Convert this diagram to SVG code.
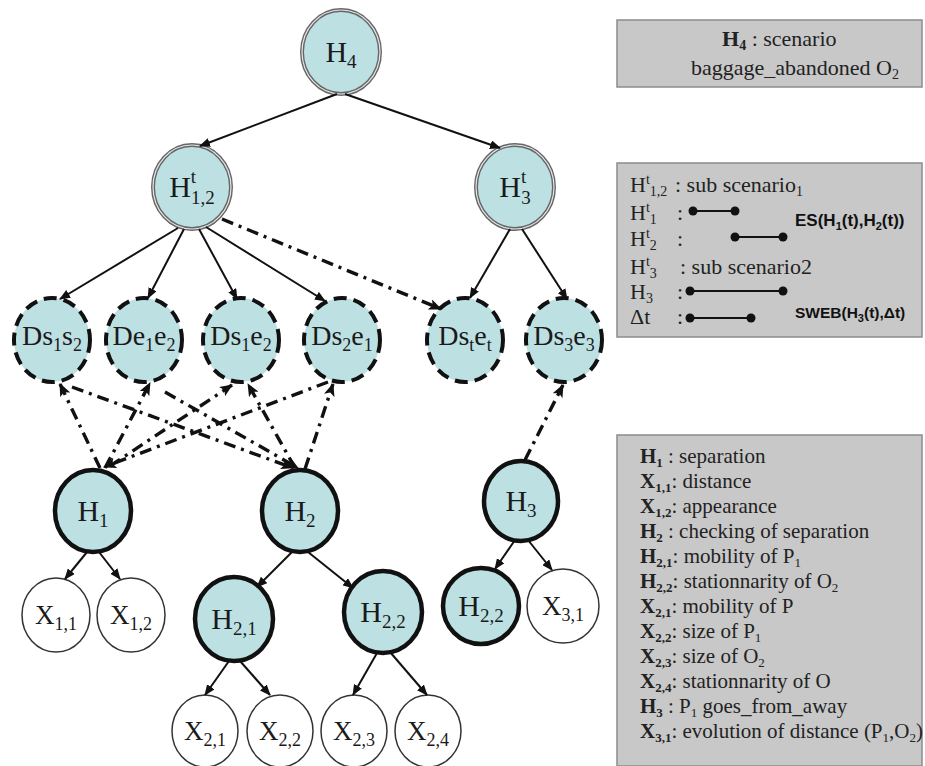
<svg xmlns="http://www.w3.org/2000/svg" width="925" height="766" viewBox="0 0 925 766">
<defs>
<marker id="ah" markerUnits="userSpaceOnUse" markerWidth="11" markerHeight="9" refX="10" refY="4.5" orient="auto"><path d="M0,0 L11,4.5 L0,9 z" fill="#111"/></marker>
<marker id="ahd" markerUnits="userSpaceOnUse" markerWidth="13" markerHeight="11" refX="12" refY="5.5" orient="auto"><path d="M0,0 L13,5.5 L0,11 L3,5.5 z" fill="#111"/></marker>
<style>
.n {fill:#bde0e3}
.dbl {stroke:#666; stroke-width:4}
.dbl2 {fill:none; stroke:#e6e6e6; stroke-width:1.2}
.dsh {stroke:#111; stroke-width:4; stroke-dasharray:13 7}
.thk {stroke:#111; stroke-width:4.5}
.x {fill:#fff; stroke:#333; stroke-width:1.5}
.lbl {font-family:"Liberation Serif", serif; font-size:30px; fill:#1a1a1a}
.lbl .s {font-size:19px}
.ds {font-family:"Liberation Serif", serif; font-size:28px; fill:#1a1a1a}
.ds .s {font-size:18px}
.xl {font-family:"Liberation Serif", serif; font-size:27px; fill:#1a1a1a}
.xl .s {font-size:18px}
.sol {stroke:#111; stroke-width:2; fill:none; marker-end:url(#ah)}
.dd {stroke:#111; stroke-width:3.4; fill:none; stroke-dasharray:12 6 3 6; marker-end:url(#ahd)}
.box {fill:#c8c8c8; stroke:#8c8c8c; stroke-width:1.5}
.bt {font-family:"Liberation Serif", serif; font-size:21px; fill:#222}
.bt .s {font-size:13px}
.bt1 {font-family:"Liberation Serif", serif; font-size:22px; fill:#222}
.bt1 .s {font-size:14px}
.b {font-weight:bold}
.bs {font-family:"Liberation Sans", Arial, sans-serif; font-weight:bold; fill:#111}
.bs .s {font-size:11px}
.dl {stroke:#111; stroke-width:2}
.dot {fill:#111}
</style>
</defs>

<g id="legend-top">
<rect class="box" x="617" y="20" width="305" height="67"/>
<text class="bt1" x="722" y="46"><tspan class="b">H</tspan><tspan class="s b" dy="4">4</tspan><tspan dy="-4"> : scenario</tspan></text>
<text class="bt1" x="691" y="75">baggage_abandoned O<tspan class="s" dy="4">2</tspan></text>
</g>

<g id="legend-mid">
<rect class="box" x="617" y="163" width="305" height="174"/>
<text class="bt1" x="630" y="192">H<tspan class="s" dy="-8">t</tspan><tspan class="s" dy="12">1,2</tspan><tspan x="675" dy="-4">: sub scenario</tspan><tspan class="s" dy="4">1</tspan></text>
<text class="bt1" x="630" y="220">H<tspan class="s" dy="-8">t</tspan><tspan class="s" dy="12">1</tspan><tspan x="677" dy="-4">:</tspan></text>
<text class="bt1" x="630" y="246">H<tspan class="s" dy="-8">t</tspan><tspan class="s" dy="12">2</tspan><tspan x="677" dy="-4">:</tspan></text>
<text class="bt1" x="630" y="274">H<tspan class="s" dy="-8">t</tspan><tspan class="s" dy="12">3</tspan><tspan x="680" dy="-4">: sub scenario2</tspan></text>
<text class="bt1" x="630" y="299">H<tspan class="s" dy="4">3</tspan><tspan x="677" dy="-4">:</tspan></text>
<text class="bt1" x="630" y="324">Δt<tspan x="677">:</tspan></text>
<line class="dl" x1="693" y1="211" x2="735" y2="211"/><circle class="dot" cx="693" cy="211" r="4.5"/><circle class="dot" cx="735" cy="211" r="4.5"/>
<line class="dl" x1="735" y1="237" x2="783" y2="237"/><circle class="dot" cx="735" cy="237" r="4.5"/><circle class="dot" cx="783" cy="237" r="4.5"/>
<line class="dl" x1="690" y1="291" x2="783" y2="291"/><circle class="dot" cx="690" cy="291" r="4.5"/><circle class="dot" cx="783" cy="291" r="4.5"/>
<line class="dl" x1="690" y1="318" x2="751" y2="318"/><circle class="dot" cx="690" cy="318" r="4.5"/><circle class="dot" cx="751" cy="318" r="4.5"/>
<text class="bs" x="795" y="226" font-size="17">ES(H<tspan class="s" dy="4">1</tspan><tspan dy="-4">(t),H</tspan><tspan class="s" dy="4">2</tspan><tspan dy="-4">(t))</tspan></text>
<text class="bs" x="795" y="318" font-size="15.5">SWEB(H<tspan class="s" dy="4">3</tspan><tspan dy="-4">(t),Δt)</tspan></text>
</g>

<g id="legend-bottom">
<rect class="box" x="617" y="435" width="305" height="331"/>
<text class="bt" x="640" y="463"><tspan class="b">H</tspan><tspan class="s b" dy="4">1</tspan><tspan x="668" dy="-4">: separation</tspan></text>
<text class="bt" x="640" y="488"><tspan class="b">X</tspan><tspan class="s b" dy="4">1,1</tspan><tspan dy="-4">: distance</tspan></text>
<text class="bt" x="640" y="513"><tspan class="b">X</tspan><tspan class="s b" dy="4">1,2</tspan><tspan dy="-4">: appearance</tspan></text>
<text class="bt" x="640" y="538"><tspan class="b">H</tspan><tspan class="s b" dy="4">2</tspan><tspan x="668" dy="-4">: checking of separation</tspan></text>
<text class="bt" x="640" y="563"><tspan class="b">H</tspan><tspan class="s b" dy="4">2,1</tspan><tspan dy="-4">: mobility of P</tspan><tspan class="s" dy="4">1</tspan></text>
<text class="bt" x="640" y="588"><tspan class="b">H</tspan><tspan class="s b" dy="4">2,2</tspan><tspan dy="-4">: stationnarity of O</tspan><tspan class="s" dy="4">2</tspan></text>
<text class="bt" x="640" y="613"><tspan class="b">X</tspan><tspan class="s b" dy="4">2,1</tspan><tspan dy="-4">: mobility of P</tspan></text>
<text class="bt" x="640" y="638"><tspan class="b">X</tspan><tspan class="s b" dy="4">2,2</tspan><tspan dy="-4">: size of P</tspan><tspan class="s" dy="4">1</tspan></text>
<text class="bt" x="640" y="663"><tspan class="b">X</tspan><tspan class="s b" dy="4">2,3</tspan><tspan dy="-4">: size of O</tspan><tspan class="s" dy="4">2</tspan></text>
<text class="bt" x="640" y="688"><tspan class="b">X</tspan><tspan class="s b" dy="4">2,4</tspan><tspan dy="-4">: stationnarity of O</tspan></text>
<text class="bt" x="640" y="713"><tspan class="b">H</tspan><tspan class="s b" dy="4">3</tspan><tspan x="668" dy="-4">: P</tspan><tspan class="s" dy="4">1</tspan><tspan dy="-4"> goes_from_away</tspan></text>
<text class="bt" x="640" y="738"><tspan class="b">X</tspan><tspan class="s b" dy="4">3,1</tspan><tspan dy="-4">: evolution of distance (P</tspan><tspan class="s" dy="4">1</tspan><tspan dy="-4">,O</tspan><tspan class="s" dy="4">2</tspan><tspan dy="-4">)</tspan></text>
</g>

<g id="H4"><ellipse class="n dbl" cx="341" cy="52" rx="39" ry="42"/><ellipse class="dbl2" cx="341" cy="52" rx="39" ry="42"/>
<text class="lbl" x="341" y="62" text-anchor="middle">H<tspan class="s" dy="6">4</tspan></text></g>
<g id="Ht12"><ellipse class="n dbl" cx="192" cy="187" rx="39" ry="42"/><ellipse class="dbl2" cx="192" cy="187" rx="39" ry="42"/>
<text class="lbl" x="192" y="197" text-anchor="middle">H<tspan class="s" dy="-14">t</tspan><tspan class="s" dx="-5" dy="21">1,2</tspan></text></g>
<g id="Ht3"><ellipse class="n dbl" cx="515" cy="187" rx="39" ry="42"/><ellipse class="dbl2" cx="515" cy="187" rx="39" ry="42"/>
<text class="lbl" x="515" y="197" text-anchor="middle">H<tspan class="s" dy="-14">t</tspan><tspan class="s" dx="-5" dy="21">3</tspan></text></g>

<g id="Ds1s2"><ellipse class="n dsh" cx="52" cy="340" rx="38" ry="42"/>
<text class="ds" x="52" y="345" text-anchor="middle">Ds<tspan class="s" dy="6">1</tspan><tspan dy="-6">s</tspan><tspan class="s" dy="6">2</tspan></text></g>
<g id="De1e2"><ellipse class="n dsh" cx="144" cy="340" rx="38" ry="42"/>
<text class="ds" x="144" y="345" text-anchor="middle">De<tspan class="s" dy="6">1</tspan><tspan dy="-6">e</tspan><tspan class="s" dy="6">2</tspan></text></g>
<g id="Ds1e2"><ellipse class="n dsh" cx="241" cy="340" rx="38" ry="42"/>
<text class="ds" x="241" y="345" text-anchor="middle">Ds<tspan class="s" dy="6">1</tspan><tspan dy="-6">e</tspan><tspan class="s" dy="6">2</tspan></text></g>
<g id="Ds2e1"><ellipse class="n dsh" cx="342" cy="340" rx="38" ry="42"/>
<text class="ds" x="342" y="345" text-anchor="middle">Ds<tspan class="s" dy="6">2</tspan><tspan dy="-6">e</tspan><tspan class="s" dy="6">1</tspan></text></g>
<g id="Dstet"><ellipse class="n dsh" cx="465" cy="340" rx="38" ry="42"/>
<text class="ds" x="465" y="345" text-anchor="middle">Ds<tspan class="s" dy="6">t</tspan><tspan dy="-6">e</tspan><tspan class="s" dy="6">t</tspan></text></g>
<g id="Ds3e3"><ellipse class="n dsh" cx="564" cy="340" rx="38" ry="42"/>
<text class="ds" x="564" y="345" text-anchor="middle">Ds<tspan class="s" dy="6">3</tspan><tspan dy="-6">e</tspan><tspan class="s" dy="6">3</tspan></text></g>

<g id="H1"><ellipse class="n thk" cx="93" cy="511" rx="38" ry="41"/>
<text class="lbl" x="93" y="521" text-anchor="middle">H<tspan class="s" dy="6">1</tspan></text></g>
<g id="H2"><ellipse class="n thk" cx="300" cy="511" rx="38" ry="41"/>
<text class="lbl" x="300" y="521" text-anchor="middle">H<tspan class="s" dy="6">2</tspan></text></g>
<g id="H3"><ellipse class="n thk" cx="521" cy="501" rx="37" ry="40"/>
<text class="lbl" x="521" y="511" text-anchor="middle">H<tspan class="s" dy="6">3</tspan></text></g>

<g id="X11"><ellipse class="x" cx="56" cy="615" rx="34" ry="37"/>
<text class="xl" x="56" y="624" text-anchor="middle">X<tspan class="s" dy="6">1,1</tspan></text></g>
<g id="X12"><ellipse class="x" cx="131" cy="615" rx="34" ry="37"/>
<text class="xl" x="131" y="624" text-anchor="middle">X<tspan class="s" dy="6">1,2</tspan></text></g>
<g id="H21"><ellipse class="n thk" cx="234" cy="619" rx="39" ry="42"/>
<text class="lbl" x="234" y="629" text-anchor="middle">H<tspan class="s" dy="6">2,1</tspan></text></g>
<g id="H22"><ellipse class="n thk" cx="383" cy="612" rx="39" ry="41"/>
<text class="lbl" x="383" y="622" text-anchor="middle">H<tspan class="s" dy="6">2,2</tspan></text></g>
<g id="H22b"><ellipse class="n thk" cx="481" cy="606" rx="38" ry="38"/>
<text class="lbl" x="481" y="616" text-anchor="middle">H<tspan class="s" dy="6">2,2</tspan></text></g>
<g id="X31"><ellipse class="x" cx="563" cy="606" rx="36" ry="37"/>
<text class="xl" x="563" y="615" text-anchor="middle">X<tspan class="s" dy="6">3,1</tspan></text></g>
<g id="X21"><ellipse class="x" cx="205" cy="731" rx="33" ry="36"/>
<text class="xl" x="205" y="740" text-anchor="middle">X<tspan class="s" dy="6">2,1</tspan></text></g>
<g id="X22"><ellipse class="x" cx="280" cy="731" rx="33" ry="36"/>
<text class="xl" x="280" y="740" text-anchor="middle">X<tspan class="s" dy="6">2,2</tspan></text></g>
<g id="X23"><ellipse class="x" cx="354" cy="731" rx="33" ry="36"/>
<text class="xl" x="354" y="740" text-anchor="middle">X<tspan class="s" dy="6">2,3</tspan></text></g>
<g id="X24"><ellipse class="x" cx="428" cy="731" rx="33" ry="36"/>
<text class="xl" x="428" y="740" text-anchor="middle">X<tspan class="s" dy="6">2,4</tspan></text></g>

<g id="connectors">
<path class="sol" d="M337,94 L200,146"/>
<path class="sol" d="M345,94 L500,148"/>
<path class="sol" d="M178,228 L60,299"/>
<path class="sol" d="M184,229 L148,298"/>
<path class="sol" d="M199,229 L237,299"/>
<path class="sol" d="M206,227 L325,301"/>
<path class="sol" d="M510,229 L470,298"/>
<path class="sol" d="M522,229 L567,299"/>
<path class="sol" d="M87,552 L65,579"/>
<path class="sol" d="M99,552 L120,579"/>
<path class="sol" d="M292,552 L257,587"/>
<path class="sol" d="M308,552 L353,588"/>
<path class="sol" d="M229,661 L205,695"/>
<path class="sol" d="M240,661 L270,695"/>
<path class="sol" d="M377,653 L353,695"/>
<path class="sol" d="M390,652 L427,695"/>
<path class="sol" d="M515,540 L495,569"/>
<path class="sol" d="M528,540 L552,570"/>
<path class="dd" d="M222,219 L441,309"/>
<path class="dd" d="M525,460 L563,385"/>
<path class="dd" d="M100,468 L60,384"/>
<path class="dd" d="M105,468 L150,383"/>
<path class="dd" d="M110,466 L232,385"/>
<path class="dd" d="M328,382 L104,467"/>
<path class="dd" d="M295,468 L248,384"/>
<path class="dd" d="M305,469 L333,384"/>
<path class="dd" d="M72,387 L293,468"/>
<path class="dd" d="M165,392 L298,468"/>
</g>
</svg>
